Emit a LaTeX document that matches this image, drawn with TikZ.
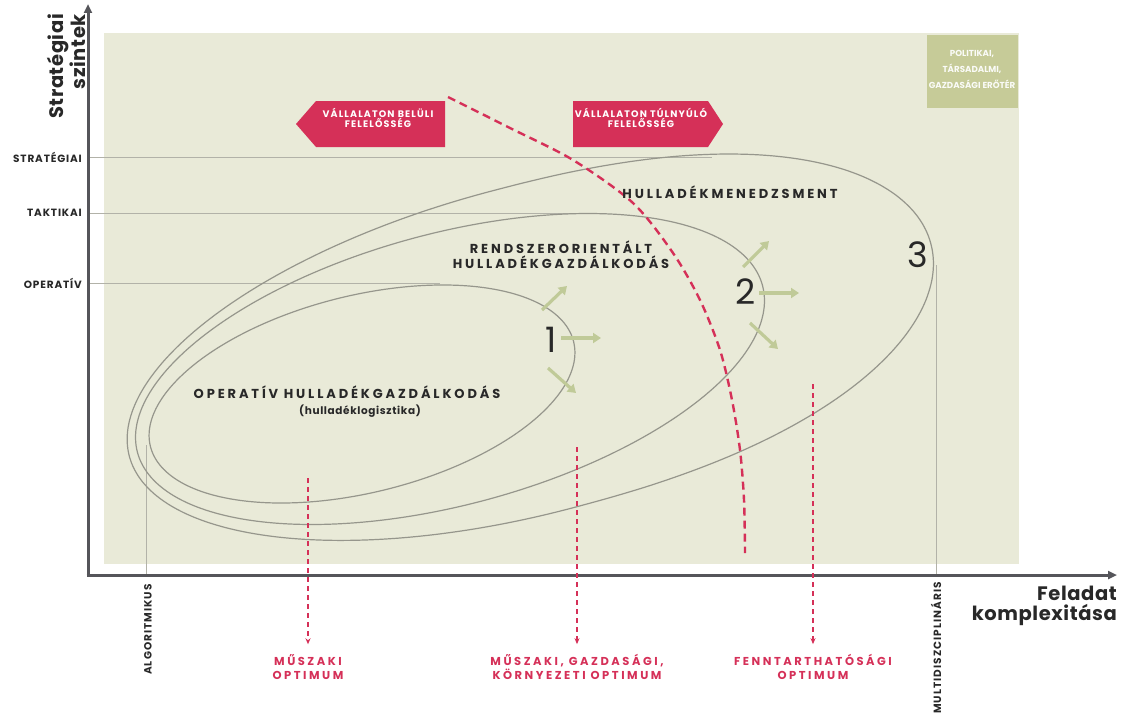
\documentclass[tikz,border=0pt]{standalone}
\usepackage{fontspec}
\setmainfont{Poppins}
\usetikzlibrary{arrows.meta}
\definecolor{bgc}{RGB}{233,234,216}
\definecolor{olivebox}{RGB}{198,203,152}
\definecolor{pinkc}{RGB}{213,48,88}
\definecolor{ellgray}{RGB}{150,150,140}
\definecolor{linegray}{RGB}{178,178,168}
\definecolor{axisgray}{RGB}{85,85,90}
\definecolor{textdark}{RGB}{40,40,40}
\definecolor{arrgreen}{RGB}{192,202,152}
\newcommand{\fnt}[3]{\fontsize{#1}{#2}\selectfont\bfseries\addfontfeature{LetterSpace=#3}}
\tikzset{
 lvl/.style={font=\fnt{10.5}{12}{8}, text=textdark, anchor=east, inner sep=0},
 ell/.style={draw=ellgray, line width=1.2pt},
 lvlline/.style={draw=linegray, line width=0.9pt},
 bigl/.style={font=\fnt{13}{15}{22}, text=textdark, inner sep=0, align=center},
 numl/.style={font=\fontsize{35}{35}\selectfont, text=textdark, inner sep=0},
 garrow/.style={draw=arrgreen, line width=3.2pt, -{Triangle[length=8pt,width=10pt]}},
 pinkdash/.style={draw=pinkc, line width=2.4pt, dash pattern=on 8pt off 5pt},
 optarrow/.style={draw=pinkc, line width=1.4pt, dash pattern=on 5pt off 4pt, -{Stealth[length=6pt,width=5pt]}, shorten >=10pt},
 optlabel/.style={font=\fnt{11.5}{14}{22}, text=pinkc, align=center, inner sep=0},
 resp/.style={font=\fnt{9.5}{10.5}{12}, text=white, align=center, inner sep=0},
 axlabel/.style={font=\fnt{19.5}{19.5}{3}, text=textdark, inner sep=0},
 ticklab/.style={font=\fnt{10.5}{12}{10}, text=textdark, inner sep=0, rotate=90, anchor=east},
 axis/.style={draw=axisgray, line width=3pt, -{Triangle[length=9pt,width=8pt]}}
}
\begin{document}
\begin{tikzpicture}[x=1pt,y=-1pt]
\useasboundingbox (0,0) rectangle (1121,717);
% background
\fill[bgc] (104,33) rectangle (1019,564);
\fill[olivebox] (927,35) rectangle (1018,108);
\node[font=\fnt{8.7}{16}{0}, text=white!92!olivebox, align=center, inner sep=0] (pol) at (972,69) {POLITIKAI,\\TÁRSADALMI,\\GAZDASÁGI ERŐTÉR};

% level lines
\draw[lvlline] (90,157) -- (712,157);
\draw[lvlline] (90,213) -- (585,213);
\draw[lvlline] (90,283) -- (440,283);
% vertical ticks
\draw[lvlline] (146,445) -- (146,575);
\draw[lvlline] (936,265) -- (936,575);

% ellipses
\draw[ell] plot[smooth, domain=0:360, samples=121, variable=\t]
  ({362 + 218*cos(\t)*0.9707 + 98.5*sin(\t)*0.2402}, {394 - 218*cos(\t)*0.2402 + 98.5*sin(\t)*0.9707}) -- cycle;
\draw[ell] plot[smooth, domain=0:360, samples=121, variable=\t]
  ({450 + 323.5*cos(\t)*0.9661 + 135.8*sin(\t)*0.2580}, {369 - 323.5*cos(\t)*0.2580 + 135.8*sin(\t)*0.9661}) -- cycle;
\draw[ell] plot[smooth, domain=0:360, samples=145, variable=\t]
  ({530 + 414.7*(pow(max(cos(\t),0.0001),0.85)+min(cos(\t),0))*0.9666 + 163.5*sin(\t)*0.2563},
   {350 - 414.7*(pow(max(cos(\t),0.0001),0.85)+min(cos(\t),0))*0.2563 + 163.5*sin(\t)*0.9666}) -- cycle;

% responsibility arrows
\fill[pinkc] (296,124) -- (316,101) -- (445,101) -- (445,147) -- (316,147) -- cycle;
\node[resp] (r1) at (378,118) {VÁLLALATON BELÜLI\\FELELŐSSÉG};
\fill[pinkc] (573,101) -- (708,101) -- (723,124) -- (708,147) -- (573,147) -- cycle;
\node[resp] (r2) at (641,118) {VÁLLALATON TÚLNYÚLÓ\\FELELŐSSÉG};

% dashed boundary
\draw[pinkdash] plot[smooth, tension=0.5] coordinates {(448,97) (510,128) (573,160) (633,203) (673,253) (700,300) (720,350) (732,400) (740,450) (744,500) (745,553)};

% labels in ellipses
\node[bigl] (hm) at (730,192) {HULLADÉKMENEDZSMENT};
\node[bigl] (rh) at (561,255) {RENDSZERORIENTÁLT\\HULLADÉKGAZDÁLKODÁS};
\node[bigl] (oh) at (347,392) {OPERATÍV HULLADÉKGAZDÁLKODÁS};
\node[font=\fnt{10.5}{12}{6}, text=textdark, inner sep=0] (hl) at (360,411) {(hulladéklogisztika)};

\node[numl] (n1) at (551,340) {1};
\node[numl] (n2) at (746,292) {2};
\node[numl] (n3) at (918,255) {3};

% green arrows
\draw[garrow] (542,310) -- (567,286);
\draw[garrow] (561,338) -- (601,338);
\draw[garrow] (548,368) -- (576,393);
\draw[garrow] (743,267) -- (769,241);
\draw[garrow] (759,293) -- (799,293);
\draw[garrow] (750,323) -- (778,349);

% axes
\coordinate (O) at (88,575);
\coordinate (Ytop) at (88,4);
\coordinate (Xend) at (1117,575);
\draw[axis] (O) -- (Ytop);
\draw[axis] ([xshift=-1.5pt]O) -- (Xend);

\node[axlabel, rotate=90, anchor=east, align=right] (ylab) at (66,14) {Stratégiai\\szintek};
\node[axlabel, anchor=east, align=right] (xlab) at (1117,606) {Feladat\\komplexitása};

\node[lvl] (l1) at (82,157) {STRATÉGIAI};
\node[lvl] (l2) at (82,213) {TAKTIKAI};
\node[lvl] (l3) at (82,283) {OPERATÍV};

\node[ticklab] (t1) at (148,584) {ALGORITMIKUS};
\node[ticklab] (t2) at (936,582) {MULTIDISZCIPLINÁRIS};

% optimum labels and arrows
\node[optlabel] (o1) at (308,667) {MŰSZAKI\\OPTIMUM};
\node[optlabel] (o2) at (577,667) {MŰSZAKI, GAZDASÁGI,\\KÖRNYEZETI OPTIMUM};
\node[optlabel] (o3) at (813,667) {FENNTARTHATÓSÁGI\\OPTIMUM};
\coordinate (s1) at (308,478);
\coordinate (s2) at (577,447);
\coordinate (s3) at (813,384);
\draw[optarrow] (s1) -- (o1.north);
\draw[optarrow] (s2) -- (o2.north);
\draw[optarrow] (s3) -- (o3.north);
\end{tikzpicture}
\end{document}
